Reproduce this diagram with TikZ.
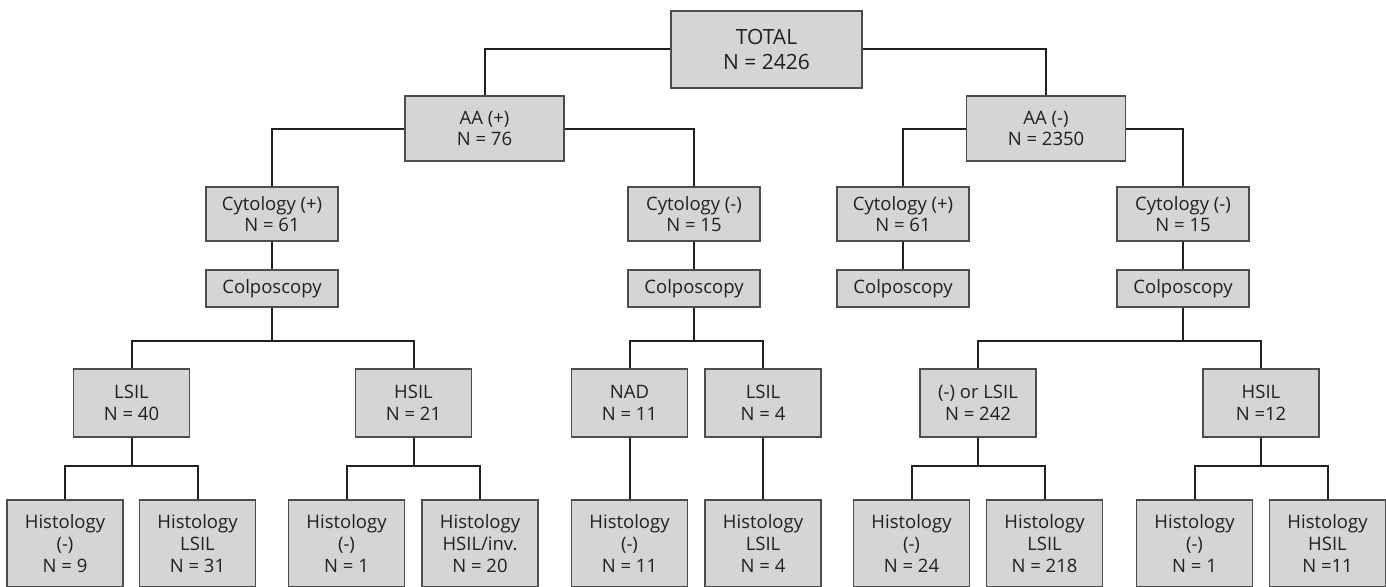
\documentclass[tikz,border=0pt]{standalone}
\usepackage{fontspec}
\setmainfont{Open Sans}
\usetikzlibrary{positioning, calc}
\definecolor{boxfill}{RGB}{212,213,215}
\definecolor{boxline}{RGB}{77,77,79}
\definecolor{inkk}{RGB}{35,31,32}

\begin{document}
\begin{tikzpicture}[
    x=1pt, y=-1pt,
    font=\fontsize{18.5}{21.7}\selectfont,
    % Box shapes, one per tree level
    nbox/.style={draw=boxline, line width=1.2pt, fill=boxfill, text=inkk, align=center, inner sep=0pt},
    totbox/.style={nbox, minimum width=191pt, minimum height=77pt, font=\fontsize{21}{25.5}\selectfont},
    aabox/.style={nbox, minimum width=159pt, minimum height=65pt},
    cytbox/.style={nbox, minimum width=132pt, minimum height=54pt},
    colbox/.style={nbox, minimum width=132pt, minimum height=37pt},
    lesbox/.style={nbox, minimum width=116pt, minimum height=68pt},
    hisbox/.style={nbox, minimum width=116pt, minimum height=87pt},
    % Connectors
    conn/.style={draw=inkk, line width=2pt}
]
\useasboundingbox (0,0) rectangle (1386,586);

% ===============================
% Top levels
% ===============================
\node[totbox] (total) at (766.5,49.5) {TOTAL\\N = 2426};
\node[aabox] (aap) at (484.5,128.5) {AA (+)\\N = 76};
\node[aabox] (aam) at (1046,128.5) {AA (-)\\N = 2350};

\draw[conn] (total.west) -| (aap.north);
\draw[conn] (total.east) -| (aam.north);

% Cytology
\node[cytbox] (cyt1) at (272,214) {Cytology (+)\\N = 61};
\node[cytbox] (cyt2) at (694,214) {Cytology (-)\\N = 15};
\node[cytbox] (cyt3) at (903,214) {Cytology (+)\\N = 61};
\node[cytbox] (cyt4) at (1183,214) {Cytology (-)\\N = 15};

\draw[conn] (aap.west) -| (cyt1.north);
\draw[conn] (aap.east) -| (cyt2.north);
\draw[conn] (aam.west) -| (cyt3.north);
\draw[conn] (aam.east) -| (cyt4.north);

% Colposcopy
\node[colbox] (col1) at (272,288.5) {Colposcopy};
\node[colbox] (col2) at (694,288.5) {Colposcopy};
\node[colbox] (col3) at (903,288.5) {Colposcopy};
\node[colbox] (col4) at (1183,288.5) {Colposcopy};

\draw[conn] (cyt1) -- (col1);
\draw[conn] (cyt2) -- (col2);
\draw[conn] (cyt3) -- (col3);
\draw[conn] (cyt4) -- (col4);

% ===============================
% Colposcopy findings
% ===============================
\node[lesbox] (les1) at (131.5,403) {LSIL\\N = 40};
\node[lesbox] (les2) at (413.5,403) {HSIL\\N = 21};
\node[lesbox] (les3) at (629.5,403) {NAD\\N = 11};
\node[lesbox] (les4) at (763,403) {LSIL\\N = 4};
\node[lesbox] (les5) at (978,403) {(-) or LSIL\\N = 242};
\node[lesbox] (les6) at (1261,403) {HSIL\\N =12};

\coordinate (f1) at ($(col1.south)+(0,33)$);
\draw[conn] (col1.south) -- (f1) -| (les1.north);
\draw[conn] (f1) -| (les2.north);

\coordinate (f2) at ($(col2.south)+(0,33)$);
\draw[conn] (col2.south) -- (f2) -| (les3.north);
\draw[conn] (f2) -| (les4.north);

\coordinate (f4) at ($(col4.south)+(0,33)$);
\draw[conn] (col4.south) -- (f4) -| (les5.north);
\draw[conn] (f4) -| (les6.north);

% ===============================
% Histology
% ===============================
\node[hisbox] (his1) at (65,543.5) {Histology\\(-)\\N = 9};
\node[hisbox] (his2) at (197.5,543.5) {Histology\\LSIL\\N = 31};
\node[hisbox] (his3) at (346.5,543.5) {Histology\\(-)\\N = 1};
\node[hisbox] (his4) at (480,543.5) {Histology\\HSIL/inv.\\N = 20};
\node[hisbox] (his5) at (629.5,543.5) {Histology\\(-)\\N = 11};
\node[hisbox] (his6) at (763,543.5) {Histology\\LSIL\\N = 4};
\node[hisbox] (his7) at (911.5,543.5) {Histology\\(-)\\N = 24};
\node[hisbox] (his8) at (1044.5,543.5) {Histology\\LSIL\\N = 218};
\node[hisbox] (his9) at (1194.5,543.5) {Histology\\(-)\\N = 1};
\node[hisbox] (his10) at (1327.5,543.5) {Histology\\HSIL\\N =11};

\foreach \p/\a/\b in {les1/his1/his2, les2/his3/his4, les5/his7/his8, les6/his9/his10} {
    \coordinate (g) at ($(\p.south)+(0,28)$);
    \draw[conn] (\p.south) -- (g) -| (\a.north);
    \draw[conn] (g) -| (\b.north);
}
\draw[conn] (les3) -- (his5);
\draw[conn] (les4) -- (his6);

\end{tikzpicture}
\end{document}
